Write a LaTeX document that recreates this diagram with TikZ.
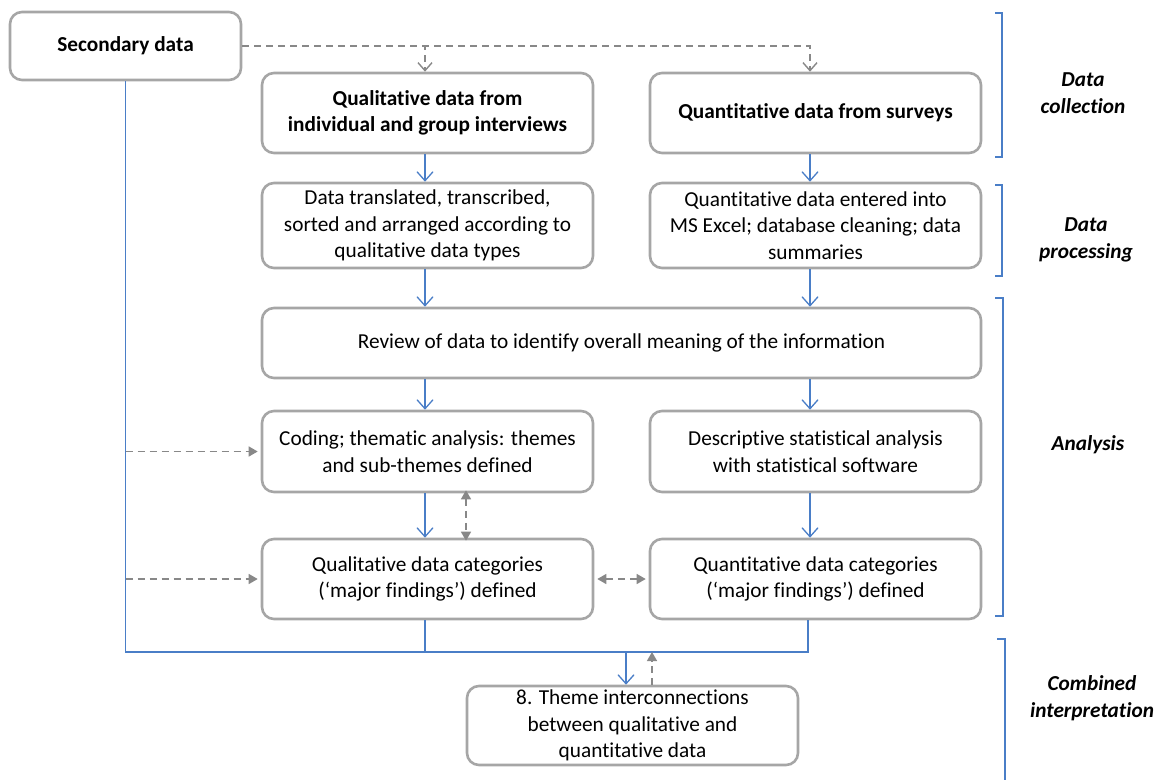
\documentclass[tikz,border=0pt]{standalone}
\usepackage{fontspec}
\setmainfont{Carlito}[Ligatures=NoCommon]
\usetikzlibrary{arrows.meta,calc}
\definecolor{boxgray}{HTML}{A6A6A6}
\definecolor{dashgray}{HTML}{888888}
\definecolor{flowblue}{HTML}{4A7EC7}
\newcommand{\boxfont}{\fontsize{21.3}{26.5}\selectfont}
\begin{document}
\begin{tikzpicture}[x=1pt,y=-1pt,
  box/.style={draw=boxgray, line width=2.6pt, rounded corners=12pt, fill=white,
    align=center, inner sep=0pt, font=\boxfont},
  flowline/.style={draw=flowblue, line width=1.3pt},
  flow/.style={flowline, -{Straight Barb[length=9pt,width=16pt,line width=1.3pt]}},
  dashline/.style={draw=dashgray, line width=1.4pt, dash pattern=on 7pt off 5pt},
  dashopen/.style={dashline, -{Straight Barb[length=8pt,width=14pt,line width=1.4pt]}},
  dashtip/.style={dashline, -{Triangle[length=9pt,width=10pt]}},
  dashboth/.style={dashline, {Triangle[length=9pt,width=10pt]}-{Triangle[length=9pt,width=10pt]}},
  bracket/.style={draw=flowblue, line width=1.3pt},
  phase/.style={font=\boxfont\bfseries\itshape, align=center}]
\useasboundingbox (0,0) rectangle (1167,780);

% arrow columns
\coordinate (colL) at (425,0);
\coordinate (colR) at (810,0);

% boxes
\node[box, minimum width=231pt, minimum height=68pt, font=\boxfont\bfseries] (sec) at (125.5,46) {Secondary data};
\node[box, minimum width=331pt, minimum height=80pt, font=\boxfont\bfseries] (qual) at (427.5,113) {Qualitative data from\\individual and group interviews};
\node[box, minimum width=331pt, minimum height=80pt, font=\boxfont\bfseries] (quant) at (815.5,113) {Quantitative data from surveys};
\node[box, minimum width=331pt, minimum height=85pt] (trans) at (427.5,225.5) {Data translated, transcribed,\\sorted and arranged according to\\qualitative data types};
\node[box, minimum width=331pt, minimum height=85pt] (entered) at (815.5,225.5) {Quantitative data entered into\\MS Excel; database cleaning; data\\summaries};
\node[box, minimum width=719pt, minimum height=70pt] (review) at (621.5,343) {Review of data to identify overall meaning of the information};
\node[box, minimum width=331pt, minimum height=81pt] (coding) at (427.5,451.5) {Coding; thematic analysis: themes\\and sub-themes defined};
\node[box, minimum width=331pt, minimum height=81pt] (desc) at (815.5,451.5) {Descriptive statistical analysis\\with statistical software};
\node[box, minimum width=331pt, minimum height=80pt] (qcat) at (427.5,579) {Qualitative data categories\\(‘major findings’) defined};
\node[box, minimum width=331pt, minimum height=80pt] (ncat) at (815.5,579) {Quantitative data categories\\(‘major findings’) defined};
\node[box, minimum width=331pt, minimum height=79pt] (theme) at (632.5,725.5) {8. Theme interconnections\\between qualitative and\\quantitative data};

% secondary data feeding the collection boxes
\draw[dashopen] (sec.east) -| (qual.north -| colL);
\draw[dashopen] (sec.east) -| (quant.north -| colR);

% main flow
\draw[flow] (qual.south -| colL) -- (trans.north -| colL);
\draw[flow] (quant.south -| colR) -- (entered.north -| colR);
\draw[flow] (trans.south -| colL) -- (review.north -| colL);
\draw[flow] (entered.south -| colR) -- (review.north -| colR);
\draw[flow] (review.south -| colL) -- (coding.north -| colL);
\draw[flow] (review.south -| colR) -- (desc.north -| colR);
\draw[flow] (coding.south -| colL) -- (qcat.north -| colL);
\draw[flow] (desc.south -| colR) -- (ncat.north -| colR);

% collecting bus to the combined interpretation
\coordinate (busL) at (125.5,652);
\coordinate (busR) at (808,652);
\coordinate (busIn) at (626,652);
\coordinate (busUp) at (652,652);
\draw[flowline] (sec.south) -- (busL) -- (busR) -- (ncat.south -| busR);
\draw[flowline] (qcat.south -| colL) -- (colL |- busL);
\draw[flow] (busIn) -- (theme.north -| busIn);
\draw[dashtip] (theme.north -| busUp) -- (busUp);

% secondary data into the qualitative analysis
\draw[dashtip] (sec.south |- coding.west) -- ([xshift=-3pt]coding.west);
\draw[dashtip] (sec.south |- qcat.west) -- ([xshift=-3pt]qcat.west);
\coordinate (linkX) at (466,0);
\draw[dashboth] ([yshift=3pt]coding.south -| linkX) -- ([yshift=-3pt]qcat.north -| linkX);
\draw[dashboth] ([xshift=3pt]qcat.east) -- ([xshift=-3pt]ncat.west);

% phase brackets
\draw[bracket] (995,13) -- (1002,13) -- (1002,157) -- (995,157);
\draw[bracket] (995,185) -- (1002,185) -- (1002,276) -- (995,276);
\draw[bracket] (995,298) -- (1003,298) -- (1003,616) -- (995,616);
\draw[bracket] (997,639) -- (1005,639) -- (1005,780);

\node[phase] (pcol) at (1083,93) {Data\\collection};
\node[phase] (pproc) at (1086,240) {Data\\processing};
\node[phase] (pana) at (1088,445) {Analysis};
\node[phase] (pcomb) at (1092,698) {Combined\\interpretation};
\end{tikzpicture}
\end{document}
